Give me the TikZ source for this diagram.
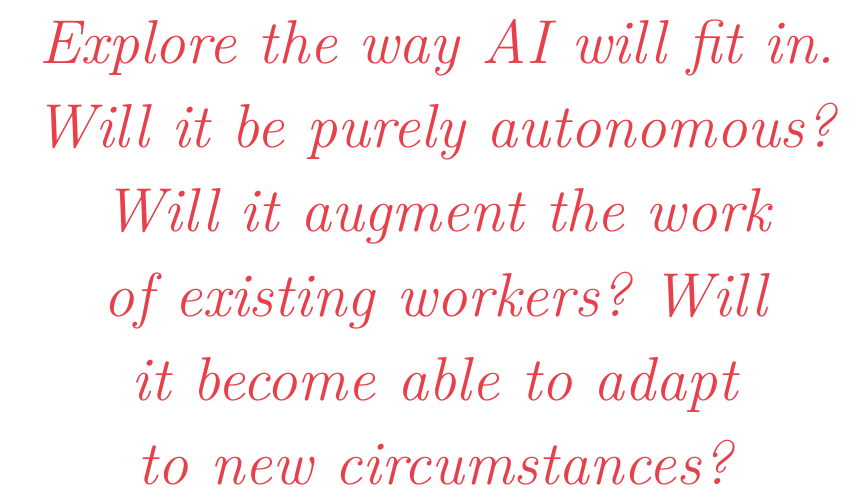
\documentclass[tikz,border=0pt]{standalone}
\usepackage{tikz}
\definecolor{quotered}{RGB}{232,64,74}
\tikzset{quoteline/.style={anchor=base,inner sep=0pt,text=quotered,font=\fontsize{46.5}{54}\selectfont\itshape\frenchspacing}}

\begin{document}
\begin{tikzpicture}[x=0.75pt,y=0.75pt,yscale=-1,xscale=1]
\useasboundingbox (0,0) rectangle (866,500);

% Text Node
\node [quoteline] (lineA) at (437,63) {Explore the way AI will fit in.};
% Text Node
\node [quoteline] (lineB) at (435,147) {Will it be purely autonomous?};
% Text Node
\node [quoteline] (lineC) at (437,231) {Will it augment the work};
% Text Node
\node [quoteline] (lineD) at (435,316) {of existing workers? Will};
% Text Node
\node [quoteline] (lineE) at (435,400) {it become able to adapt};
% Text Node
\node [quoteline] (lineF) at (435,484) {to new circumstances?};

\end{tikzpicture}
\end{document}
